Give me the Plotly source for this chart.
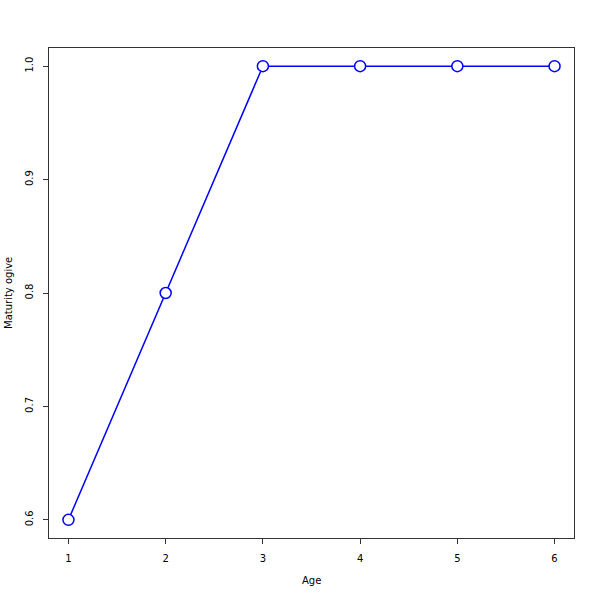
import plotly.graph_objects as go

ages = [1, 2, 3, 4, 5, 6]
maturity = [0.6, 0.8, 1.0, 1.0, 1.0, 1.0]
x_ticks = [1, 2, 3, 4, 5, 6]
y_ticks = [0.6, 0.7, 0.8, 0.9, 1.0]
y_tick_labels = ["0.6", "0.7", "0.8", "0.9", "1.0"]

fig = go.Figure()
fig.add_trace(go.Scatter(
    x=ages, y=maturity, mode="lines+markers",
    line=dict(color="blue", width=1.5),
    marker=dict(symbol="circle", size=11, color="white",
                line=dict(color="blue", width=1.5)),
    showlegend=False,
))

axis_common = dict(
    showline=True, mirror=True, linecolor="#333333", linewidth=1,
    ticks="outside", ticklen=5, tickcolor="#333333", tickwidth=1,
    showgrid=False, zeroline=False, automargin=False,
    tickfont=dict(family="DejaVu Sans", size=10, color="black"),
)

xmin, xmax = min(ages), max(ages)
ymin, ymax = min(maturity), max(maturity)
xpad = (xmax - xmin) * 0.04
ypad = (ymax - ymin) * 0.04

fig.update_layout(
    width=600, height=600,
    paper_bgcolor="white", plot_bgcolor="white",
    margin=dict(l=49, r=26, t=48, b=62),
    font=dict(family="DejaVu Sans", size=10, color="black"),
    xaxis=dict(range=[xmin - xpad, xmax + xpad], tickvals=x_ticks,
               ticklabelstandoff=6, **axis_common),
    yaxis=dict(range=[ymin - ypad, ymax + ypad], tickvals=y_ticks,
               ticktext=y_tick_labels, tickangle=-90, ticklabelstandoff=6,
               **axis_common),
    annotations=[
        dict(text="Age", xref="paper", yref="paper", x=0.5, y=-42/490,
             xanchor="center", yanchor="middle", showarrow=False,
             font=dict(size=10)),
        dict(text="Maturity ogive", xref="paper", yref="paper", x=-41/525, y=0.5,
             xanchor="center", yanchor="middle", showarrow=False, textangle=-90,
             font=dict(size=10)),
    ],
)

fig.write_html("out.html",
               config={"displayModeBar": False},
               post_script="document.body.style.margin='0';document.body.style.padding='0';")
